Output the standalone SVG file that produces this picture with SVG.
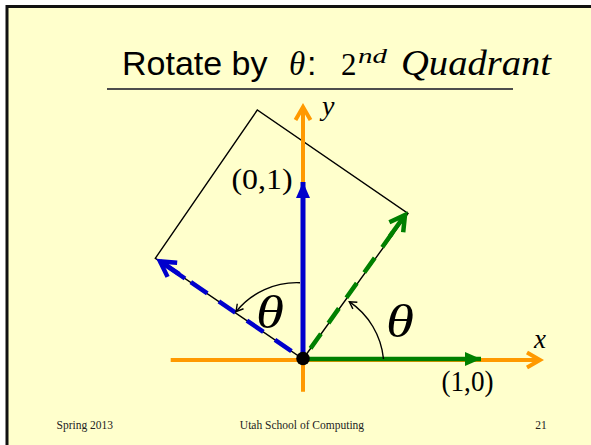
<svg xmlns="http://www.w3.org/2000/svg" width="591" height="445" viewBox="0 0 591 445">
<style>
.serif{font-family:"Liberation Serif","Times New Roman",serif;fill:#000}
.sans{font-family:"Liberation Sans",Arial,sans-serif;fill:#000}
.it{font-style:italic}
.foot{font-family:"Liberation Serif","Times New Roman",serif;font-size:11.5px;fill:#222}
.axis{stroke:#FF9900;stroke-width:4;fill:none}
.thin{stroke:#000;stroke-width:1.4;fill:none}
</style>
<defs>
<marker id="openOrange" markerUnits="userSpaceOnUse" markerWidth="40" markerHeight="40" viewBox="-20 -20 40 40" refX="0" refY="0" orient="auto" overflow="visible">
<path d="M-13,-7.5 L0,0 L-13,7.5" fill="none" stroke="#FF9900" stroke-width="4"/>
</marker>
<marker id="openBlue" markerUnits="userSpaceOnUse" markerWidth="40" markerHeight="40" viewBox="-20 -20 40 40" refX="0" refY="0" orient="auto" overflow="visible">
<path d="M-15,-8.5 L0,0 L-15,8.5" fill="none" stroke="#0000CC" stroke-width="4.5"/>
</marker>
<marker id="openGreen" markerUnits="userSpaceOnUse" markerWidth="40" markerHeight="40" viewBox="-20 -20 40 40" refX="0" refY="0" orient="auto" overflow="visible">
<path d="M-15,-8.5 L0,0 L-15,8.5" fill="none" stroke="#008000" stroke-width="4.5"/>
</marker>
<marker id="triBlue" markerUnits="userSpaceOnUse" markerWidth="40" markerHeight="40" viewBox="-20 -20 40 40" refX="0" refY="0" orient="auto" overflow="visible">
<path d="M-16,-7 L0,0 L-16,7 Z" fill="#0000CC"/>
</marker>
<marker id="triGreen" markerUnits="userSpaceOnUse" markerWidth="40" markerHeight="40" viewBox="-20 -20 40 40" refX="0" refY="0" orient="auto" overflow="visible">
<path d="M-16,-7 L0,0 L-16,7 Z" fill="#008000"/>
</marker>
<marker id="openBlack" markerUnits="userSpaceOnUse" markerWidth="20" markerHeight="20" viewBox="-10 -10 20 20" refX="0" refY="0" orient="auto" overflow="visible">
<path d="M-7,-4 L0,0 L-7,4" fill="none" stroke="#000" stroke-width="1.4"/>
</marker>
</defs>

<rect x="0" y="0" width="591" height="445" fill="#fff"/>
<rect id="slide" x="7" y="6.5" width="620" height="480" fill="#FFFFCC" stroke="#111" stroke-width="3"/>

<g id="title">
<text y="75"><tspan class="sans" x="122" font-size="34">Rotate by</tspan><tspan class="serif it" x="289" font-size="33">θ</tspan><tspan class="sans" x="307" font-size="34">:</tspan><tspan class="serif" x="341" font-size="31">2</tspan><tspan class="serif it" x="358" y="63" font-size="21" textLength="29" lengthAdjust="spacingAndGlyphs">nd</tspan><tspan class="serif it" x="401" y="75" font-size="35" textLength="150" lengthAdjust="spacingAndGlyphs">Quadrant</tspan></text>
<line x1="107" y1="89" x2="513" y2="89" stroke="#4d4d4d" stroke-width="2"/>
</g>

<g id="square">
<polygon points="303,359 408,213.3 257.3,110 155.3,258.3" class="thin"/>
</g>

<g id="connectors">
<line id="x-axis" x1="170.7" y1="360" x2="540" y2="360" class="axis" marker-end="url(#openOrange)"/>
<line id="y-axis" x1="303" y1="391.7" x2="303" y2="107" class="axis" marker-end="url(#openOrange)"/>
<line id="e2" x1="303" y1="359" x2="303" y2="182" stroke="#0000CC" stroke-width="5" marker-end="url(#triBlue)"/>
<line id="e1" x1="303" y1="359" x2="481" y2="359" stroke="#008000" stroke-width="4.5" marker-end="url(#triGreen)"/>
<line id="e2r" x1="303" y1="359" x2="161.5" y2="262" stroke="#0000CC" stroke-width="4.5" stroke-dasharray="20 14" stroke-dashoffset="20"/>
<line x1="185" y1="278.5" x2="160" y2="261.4" stroke="#0000CC" stroke-width="4.5" marker-end="url(#openBlue)"/>
<line id="e1r" x1="303" y1="359" x2="404" y2="216.5" stroke="#008000" stroke-width="4.5" stroke-dasharray="18 13" stroke-dashoffset="18"/>
<line x1="390" y1="236" x2="405" y2="215" stroke="#008000" stroke-width="4.5" marker-end="url(#openGreen)"/>
<path id="arcL" d="M300,282.7 A78,78 0 0 0 236,311.7" class="thin" marker-end="url(#openBlack)"/>
<path id="arcR" d="M383.5,359 A78,78 0 0 0 349.3,301.7" class="thin" marker-end="url(#openBlack)"/>
</g>

<g id="origin">
<circle cx="303" cy="358.5" r="6.8" fill="#000"/>
</g>

<g id="labels">
<text id="lbl-y" class="serif it" x="322" y="115" font-size="28">y</text>
<text id="lbl-x" class="serif it" x="534" y="348" font-size="27">x</text>
<text id="lbl-01" class="serif" x="231.5" y="189" font-size="30" textLength="61" lengthAdjust="spacingAndGlyphs">(0,1)</text>
<text id="lbl-10" class="serif" x="441.5" y="391" font-size="29" textLength="52" lengthAdjust="spacingAndGlyphs">(1,0)</text>
<text id="theta-left" class="serif it" x="256" y="328" font-size="46" textLength="28" lengthAdjust="spacingAndGlyphs">θ</text>
<text id="theta-right" class="serif it" x="386" y="337" font-size="46" textLength="28" lengthAdjust="spacingAndGlyphs">θ</text>
</g>

<g id="footer">
<text class="foot" x="56.5" y="429">Spring 2013</text>
<text class="foot" x="302" y="429" text-anchor="middle">Utah School of Computing</text>
<text class="foot" x="541" y="429" text-anchor="middle">21</text>
</g>
</svg>
